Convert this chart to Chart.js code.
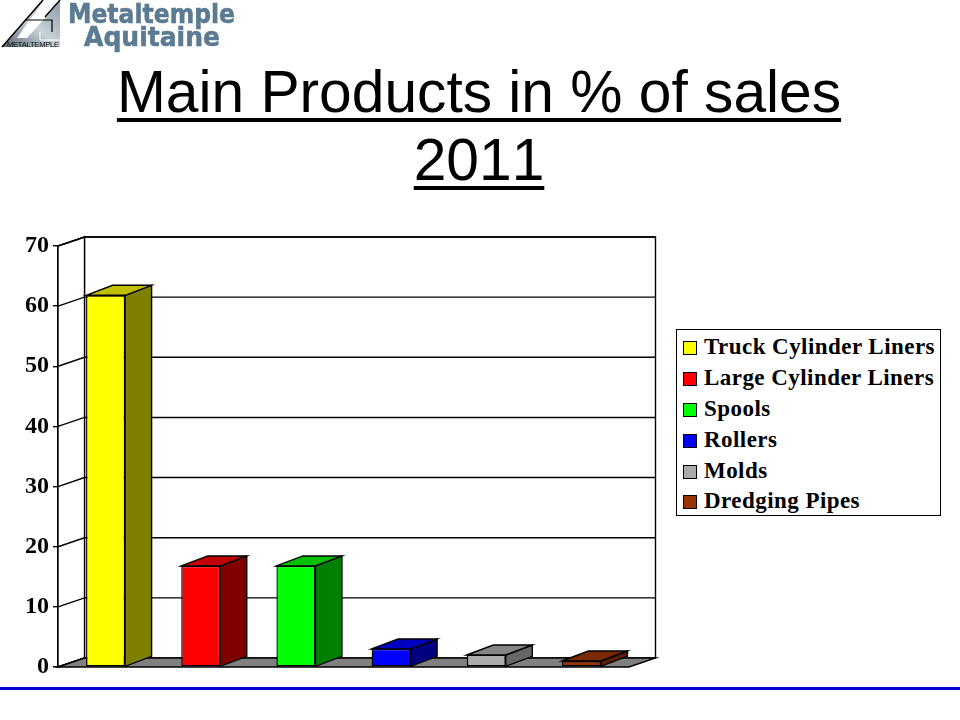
<!DOCTYPE html>
<html>
<head>
<meta charset="utf-8">
<title>Main Products in % of sales 2011</title>
<script src="https://cdn.jsdelivr.net/npm/chart.js@4"></script>
<style>
  html, body { margin: 0; padding: 0; background: #fff; }
  #page { position: relative; width: 960px; height: 720px; overflow: hidden; }
  #chart { position: absolute; left: 0; top: 0; }
  #title {
    position: absolute; left: 0; top: 58px; width: 958px; text-align: center;
    font: 58.7px/68px "Liberation Sans", Arial, sans-serif; color: #000; font-kerning: none;
    text-decoration: underline; text-decoration-thickness: 4px; text-underline-offset: 6px;
  }
  #logo { position: absolute; left: 0; top: 0; }
  #rule { position: absolute; left: 0; top: 687px; width: 960px; height: 3px; background: #0000cc; }
  #legend {
    position: absolute; left: 676px; top: 329px; width: 263px; height: 183px;
    border: 1px solid #000; background: #fff;
    font: bold 23px/31px "Liberation Serif", "Times New Roman", serif; letter-spacing: 0.45px;
    padding-top: 2px; box-sizing: content-box;
  }
  #legend .row { height: 30.9px; white-space: nowrap; position: relative; }
  #legend .box {
    position: absolute; left: 6px; top: 9px; width: 12px; height: 12px; border: 1px solid #000;
  }
  #legend .txt { position: absolute; left: 27px; top: -1px; }
</style>
</head>
<body>
<div id="page">
  <canvas id="chart" width="960" height="720"></canvas>
  <svg id="logo" width="250" height="56" viewBox="0 0 250 56">
    <defs>
      <linearGradient id="steel" x1="0" y1="1" x2="1" y2="0">
        <stop offset="0" stop-color="#56666f"/>
        <stop offset="0.5" stop-color="#c8d2d8"/>
        <stop offset="1" stop-color="#8a9ba6"/>
      </linearGradient>
    </defs>
    <polygon points="2,47 60,47 60,0 44,0" fill="url(#steel)"/>
    <polygon points="44,0 60,0 60,1 45,18 27,38 17,38" fill="#fff"/>
    <line x1="2" y1="47" x2="43" y2="0" stroke="#000" stroke-width="1.5"/>
    <line x1="45" y1="17" x2="60" y2="0" stroke="#000" stroke-width="1.5"/>
    <polyline points="25,20 52,20 52,32" fill="none" stroke="#000" stroke-width="1.2"/>
    <polyline points="40,32 40,40 60,40" fill="none" stroke="#fff" stroke-width="1"/>
    <text x="7" y="47" font-family="Liberation Sans" font-size="7.5" fill="#111" textLength="52">METALTEMPLE</text>
    <text x="68" y="23" font-family="DejaVu Sans" font-weight="bold" font-size="27" fill="#5b7b93" stroke="#5b7b93" stroke-width="0.6" textLength="167" lengthAdjust="spacingAndGlyphs">Metaltemple</text>
    <text x="84" y="46" font-family="DejaVu Sans" font-weight="bold" font-size="27" fill="#5b7b93" stroke="#5b7b93" stroke-width="0.6" textLength="136" lengthAdjust="spacingAndGlyphs">Aquitaine</text>
  </svg>
  <div id="title">Main Products in % of sales<br>2011</div>
  <div id="legend"></div>
  <div id="rule"></div>
</div>

<script>
const categories = ["Truck Cylinder Liners", "Large Cylinder Liners", "Spools", "Rollers", "Molds", "Dredging Pipes"];
const salesPercent = [61.8, 16.8, 16.8, 3, 2, 1];
const tickValues = [0, 10, 20, 30, 40, 50, 60, 70];

const barColors = ["#ffff00", "#ff0000", "#00ff00", "#0000ff", "#aaaaaa", "#993300"];
const sideColors = ["#808000", "#800000", "#008000", "#000080", "#666666", "#5c2000"];
const topColors = ["#c0c000", "#c00000", "#00c000", "#0000c0", "#858585", "#7a2900"];

// offset of the back wall from the front plane
const depthX = 26.5;
const depthY = 9;

const poly = (ctx, pts, fill) => {
    ctx.beginPath();
    ctx.moveTo(pts[0][0], pts[0][1]);
    for (let i = 1; i < pts.length; i++) {
        ctx.lineTo(pts[i][0], pts[i][1]);
    }
    ctx.closePath();
    if (fill) {
        ctx.fillStyle = fill;
        ctx.fill();
    }
    ctx.stroke();
};

const box3d = {
    id: "box3d",
    beforeDatasetsDraw(chart) {
        const ctx = chart.ctx;
        const area = chart.chartArea;
        const y = chart.scales.y;
        const l = area.left, r = area.right, b = area.bottom, t = area.top;

        ctx.save();
        ctx.strokeStyle = "#000";
        ctx.lineWidth = 1.4;

        poly(ctx, [[l + depthX, t - depthY], [r + depthX, t - depthY], [r + depthX, b - depthY], [l + depthX, b - depthY]], "#fff");
        poly(ctx, [[l, t], [l + depthX, t - depthY], [l + depthX, b - depthY], [l, b]], "#fff");

        tickValues.forEach(v => {
            const py = y.getPixelForValue(v);
            ctx.beginPath();
            ctx.moveTo(l, py);
            ctx.lineTo(l + depthX, py - depthY);
            if (v > 0) {
                ctx.lineTo(r + depthX, py - depthY);
            }
            ctx.stroke();
        });

        poly(ctx, [[l, b], [l + depthX, b - depthY], [r + depthX, b - depthY], [r, b]], "#808080");
        ctx.restore();
    },
    afterDatasetsDraw(chart) {
        const ctx = chart.ctx;
        ctx.save();
        ctx.strokeStyle = "#000";
        ctx.lineWidth = 1.4;
        chart.getDatasetMeta(0).data.forEach((bar, i) => {
            const right = bar.x + bar.width / 2;
            const left = bar.x - bar.width / 2;
            const dy = depthY + 1;
            poly(ctx, [[right, bar.y], [right + depthX, bar.y - dy], [right + depthX, bar.base - dy], [right, bar.base]], sideColors[i]);
            poly(ctx, [[left, bar.y], [left + depthX, bar.y - dy], [right + depthX, bar.y - dy], [right, bar.y]], topColors[i]);
        });
        ctx.restore();
    }
};

new Chart(document.getElementById("chart").getContext("2d"), {
    type: "bar",
    data: {
        labels: categories,
        datasets: [{
            label: "% of sales",
            data: salesPercent,
            backgroundColor: barColors,
            borderColor: "#000",
            borderWidth: 1.4,
            borderSkipped: false,
            barPercentage: 0.41,
            categoryPercentage: 1
        }]
    },
    options: {
        responsive: false,
        animation: false,
        layout: { padding: { left: 0, right: 331, top: 246, bottom: 53 } },
        plugins: { legend: { display: false }, title: { display: false }, tooltip: { enabled: false } },
        scales: {
            x: { display: false },
            y: {
                min: 0,
                max: 70,
                afterBuildTicks: scale => { scale.ticks = tickValues.map(v => ({ value: v })); },
                afterFit: scale => { scale.width = 58; },
                ticks: {
                    color: "#000",
                    padding: 4,
                    font: { family: "'Liberation Serif'", size: 24, weight: "bold" }
                },
                grid: { drawOnChartArea: false, drawTicks: true, tickLength: 5, color: "#000", lineWidth: 1.4 },
                border: { display: true, color: "#000", width: 1.4 }
            }
        }
    },
    plugins: [box3d]
});

let legend = document.getElementById("legend");
categories.forEach((name, i) => {
    let row = document.createElement("div");
    row.className = "row";
    let box = document.createElement("span");
    box.className = "box";
    box.style.background = barColors[i];
    let txt = document.createElement("span");
    txt.className = "txt";
    txt.textContent = name;
    row.appendChild(box);
    row.appendChild(txt);
    legend.appendChild(row);
});
</script>
</body>
</html>
